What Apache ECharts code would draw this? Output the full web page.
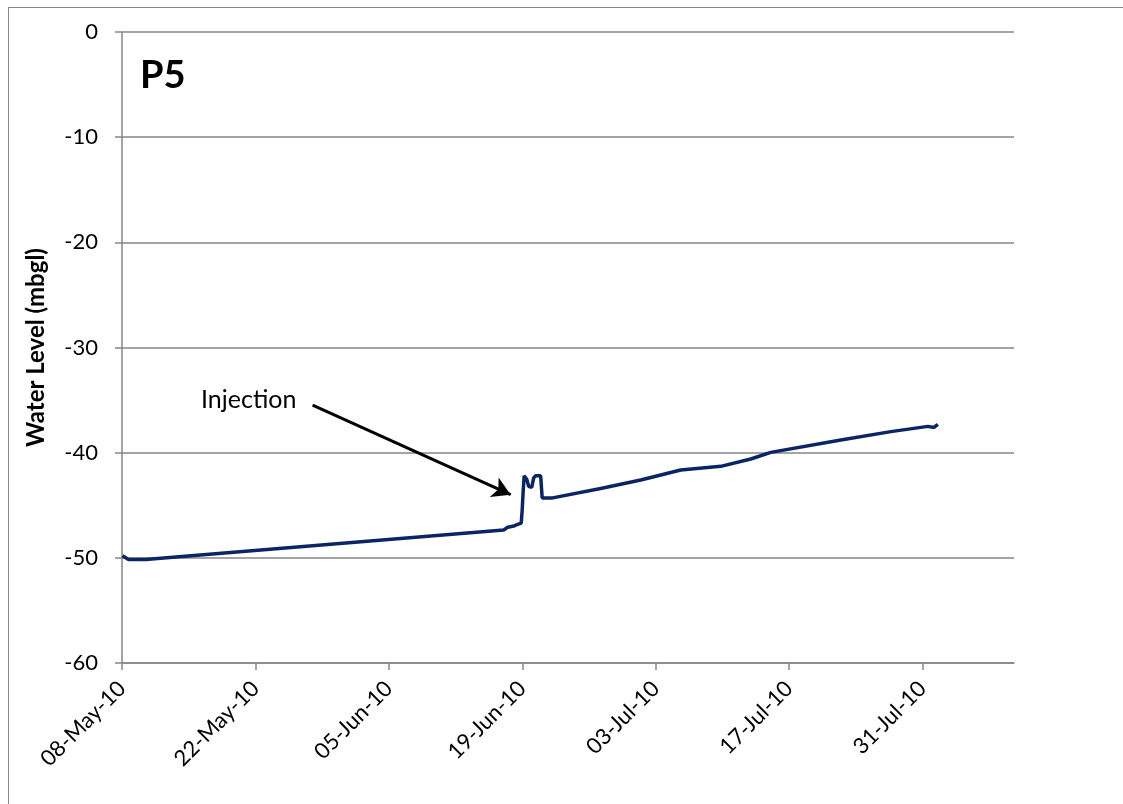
<!DOCTYPE html>
<html>
<head>
<meta charset="utf-8">
<script src="https://cdn.jsdelivr.net/npm/echarts@6/dist/echarts.min.js"></script>
<style>
  html, body { margin: 0; padding: 0; background: #fff; }
  #frame { position: absolute; left: 8px; top: 7px; width: 1120px; height: 800px; border: 1px solid #868686; box-sizing: border-box; }
  #chart { position: absolute; left: 0; top: 0; width: 1123px; height: 804px; }
</style>
</head>
<body>
<div id="frame"></div>
<div id="chart"></div>
<script>
// Days since 08-May-2010
const days = [0.05, 0.68, 2.47, 40.05, 40.47, 41.0, 41.31, 41.89, 41.99, 42.1, 42.2, 42.46, 42.67, 42.99, 43.2, 43.41, 43.93, 44.09, 45.19, 50.23, 54.43, 58.63, 62.83, 65.98, 68.08, 75.43, 80.68, 84.57, 85.2, 85.61];
const levels = [-49.8, -50.15, -50.15, -47.35, -47.1, -47.0, -46.9, -46.7, -45.5, -43.6, -42.2, -42.5, -43.2, -43.3, -42.4, -42.2, -42.2, -44.3, -44.3, -43.4, -42.6, -41.65, -41.3, -40.6, -39.97, -38.8, -38.0, -37.5, -37.6, -37.3];
const yTicks = [0, -10, -20, -30, -40, -50, -60];
const startDate = Date.UTC(2010, 4, 8);
const xMaxDays = 93.6;
const tickDays = 14;
const months = ['Jan','Feb','Mar','Apr','May','Jun','Jul','Aug','Sep','Oct','Nov','Dec'];
const arrowFrom = [20.0, -35.47];
const arrowTo = [40.78, -44.0];
const noteAt = [13.3, -35.0];

function fmtDay(d) {
  const dt = new Date(startDate + Math.round(d) * 86400000);
  const dd = String(dt.getUTCDate()).padStart(2, '0');
  const yy = String(dt.getUTCFullYear()).slice(2);
  return dd + '-' + months[dt.getUTCMonth()] + '-' + yy;
}

const seriesData = days.map((d, i) => [d, levels[i]]);
const FONT = 'Lato';
const chart = echarts.init(document.getElementById('chart'), null, { renderer: 'canvas' });
chart.setOption({
  animation: false,
  backgroundColor: 'transparent',
  title: {
    text: 'P5', left: 135, top: 52,
    textStyle: { fontFamily: FONT, fontSize: 38, fontWeight: 'bold', color: '#000' }
  },
  grid: { left: 122, right: 109, top: 32, bottom: 141 },
  xAxis: {
    type: 'value', min: 0, max: xMaxDays, interval: tickDays,
    axisLine: { show: true, onZero: false, lineStyle: { color: '#868686', width: 1.5 } },
    axisTick: { show: true, length: 7, lineStyle: { color: '#868686', width: 1.5 } },
    splitLine: { show: false },
    axisLabel: {
      rotate: 45, margin: 22, showMaxLabel: false,
      fontFamily: FONT, fontSize: 22, color: '#000',
      formatter: v => fmtDay(v)
    }
  },
  yAxis: {
    type: 'value', min: -60, max: 0, interval: 10,
    name: 'Water Level (mbgl)', nameLocation: 'middle', nameGap: 74,
    nameTextStyle: { fontFamily: FONT, fontSize: 24, fontWeight: 'bold', color: '#000' },
    axisLine: { show: true, lineStyle: { color: '#868686', width: 1.5 } },
    axisTick: { show: true, length: 7, inside: false, lineStyle: { color: '#868686', width: 1.5 } },
    splitLine: { show: true, lineStyle: { color: '#868686', width: 1.5 } },
    axisLabel: {
      margin: 24, fontFamily: FONT, fontSize: 22, color: '#000',
      formatter: v => yTicks.includes(v) ? String(v) : ''
    }
  },
  series: [{
    type: 'line',
    data: seriesData,
    showSymbol: false,
    lineStyle: { color: '#0b2463', width: 3.5 },
    markLine: {
      silent: true,
      symbol: ['none', 'arrow'],
      symbolSize: [16, 18],
      lineStyle: { color: '#000', width: 3, type: 'solid' },
      label: { show: false },
      data: [[{ coord: arrowFrom }, { coord: arrowTo }]]
    },
    markPoint: {
      silent: true,
      symbol: 'circle', symbolSize: 0,
      label: {
        show: true, formatter: 'Injection', position: 'inside',
        fontFamily: FONT, fontSize: 25, color: '#000'
      },
      data: [{ coord: noteAt }]
    }
  }]
});
</script>
</body>
</html>
